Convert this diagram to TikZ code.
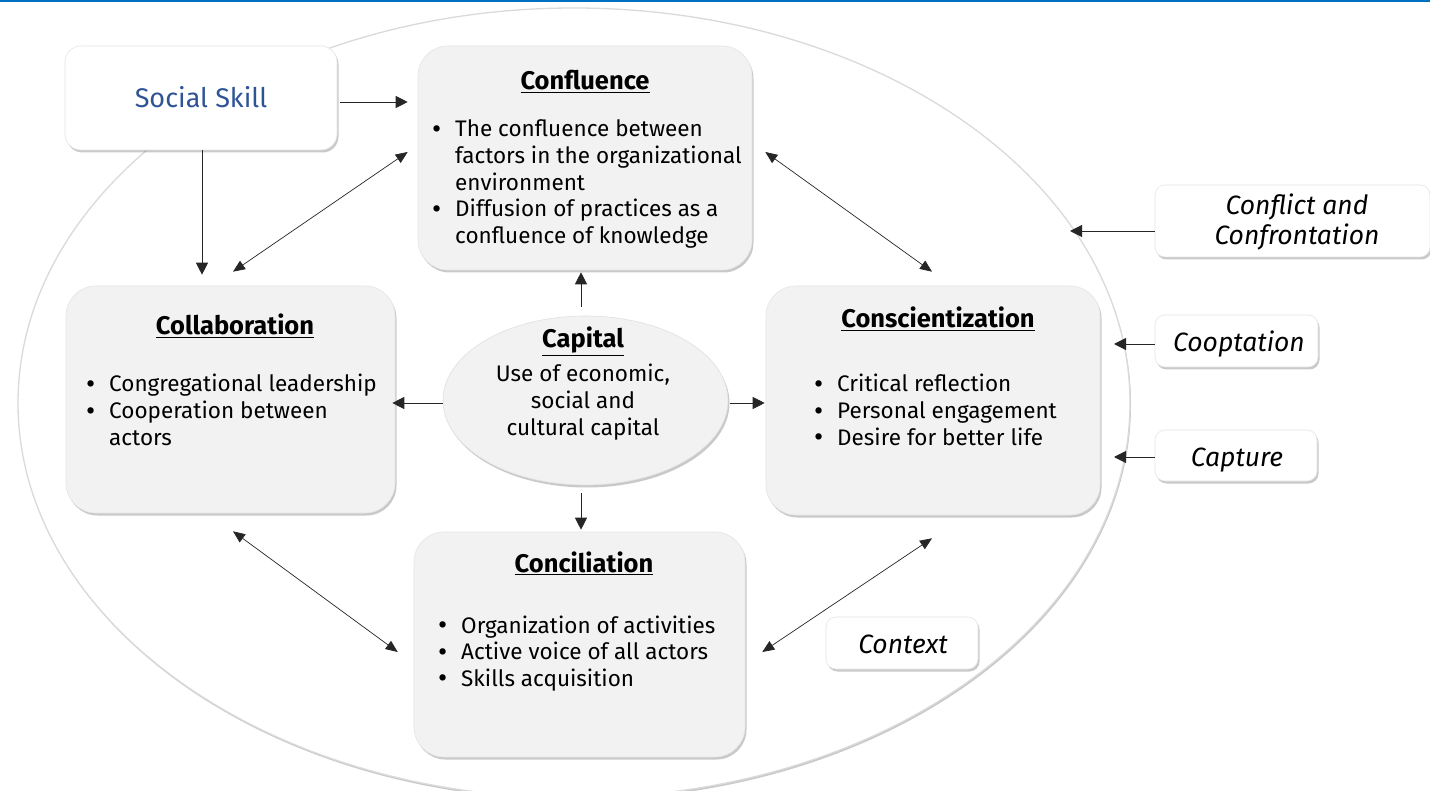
\documentclass[tikz,border=0pt]{standalone}
\usepackage{fontspec}
\setmainfont{Fira Sans}
\usetikzlibrary{shadows,arrows.meta,calc,shapes.geometric}
\definecolor{boxgray}{RGB}{242,242,242}
\definecolor{edgegray}{RGB}{218,218,218}
\definecolor{ssblue}{RGB}{47,84,150}
\definecolor{topblue}{RGB}{0,112,192}
\newcommand\bul{\makebox[23pt][l]{\raisebox{-1.6pt}{\scalebox{1.25}{\textbullet}}}}
\newcommand\ind{\hspace*{23pt}}
\newcommand\blines[1]{\vtop{\baselineskip=26.6pt\lineskiplimit=-20pt\lineskip=0pt #1}}
\newcommand\clines[2]{\vtop{\baselineskip=#1\lineskiplimit=-20pt\lineskip=0pt\halign{\hfil##\hfil\cr#2\crcr}}}
\begin{document}
\begin{tikzpicture}[x=1pt,y=-1pt,
  shad/.style={drop shadow={shadow xshift=1.5pt,shadow yshift=-2.5pt,opacity=0.35,fill=black!60}},
  graybox/.style={shad,rectangle,rounded corners=30pt,fill=boxgray,draw=black!10,line width=0.6pt,inner sep=0pt},
  whitebox/.style={shad,rectangle,rounded corners=10pt,fill=white,draw=black!10,line width=0.6pt,inner sep=0pt},
  ttl/.style={anchor=base,inner sep=0pt,font=\fontsize{25.5}{30}\selectfont\bfseries},
  body/.style={anchor=base west,inner sep=0pt,font=\fontsize{22.5}{26.6}\selectfont},
  lbl/.style={anchor=base,inner sep=0pt,font=\fontsize{26.5}{30}\selectfont\itshape},
  arr/.style={-{Triangle[length=12pt,width=12pt]},line width=0.9pt,black!85},
  darr/.style={{Triangle[length=12pt,width=10pt]}-{Triangle[length=12pt,width=10pt]},line width=0.7pt,black!85}]
\useasboundingbox (0,0) rectangle (1430,791);
\fill[white] (0,0) rectangle (1430,791);
\fill[topblue] (0,0) rectangle (1430,2.2);

% environment ellipse
\node[ellipse,inner sep=0pt,minimum width=1112pt,minimum height=790pt,fill=white,draw=edgegray,line width=1.3pt,
  drop shadow={shadow xshift=1pt,shadow yshift=-2pt,opacity=0.35,fill=black!60}] (env) at (574,403) {};

% boxes
\node[whitebox,rounded corners=16pt,minimum width=272pt,minimum height=104pt] (ss) at (201,98) {};
\node[anchor=base,inner sep=0pt,font=\fontsize{27}{30}\selectfont,text=ssblue] (sst) at (201,108) {Social Skill};

\node[graybox,minimum width=334pt,minimum height=224pt] (conf) at (585,158) {};
\node[ttl] (conft) at (585,90) {\underline{Confluence}};
\node[body] (confb) at (432,137) {\blines{\hbox{\bul The confluence between}\hbox{\ind factors in the organizational}\hbox{\ind environment}\hbox{\bul Diffusion of practices as a}\hbox{\ind confluence of knowledge}}};

\node[graybox,minimum width=329pt,minimum height=227pt] (coll) at (230.5,399.5) {};
\node[ttl] (collt) at (235,335) {\underline{Collaboration}};
\node[body] (collb) at (86,392) {\blines{\hbox{\bul Congregational leadership}\hbox{\bul Cooperation between}\hbox{\ind actors}}};

\node[graybox,minimum width=334pt,minimum height=229pt] (cons) at (933,400.5) {};
\node[ttl] (const) at (938,328) {\underline{Conscientization}};
\node[body] (consb) at (814,392) {\blines{\hbox{\bul Critical reflection}\hbox{\bul Personal engagement}\hbox{\bul Desire for better life}}};

\node[graybox,minimum width=331pt,minimum height=225pt] (conc) at (579.5,644.5) {};
\node[ttl] (conct) at (584,572) {\underline{Conciliation}};
\node[body] (concb) at (438,633) {\blines{\hbox{\bul Organization of activities}\hbox{\bul Active voice of all actors}\hbox{\bul Skills acquisition}}};

\node[ellipse,inner sep=0pt,minimum width=285pt,minimum height=169pt,fill=boxgray,draw=black!12,line width=0.6pt,shad] (cap) at (585.5,400.5) {};
\node[ttl] (capt) at (583,348) {\underline{Capital}};
\node[anchor=base,inner sep=0pt,font=\fontsize{22.5}{26.6}\selectfont] (capb) at (583,382) {\clines{26.6pt}{Use of economic,\cr social and\cr cultural capital}};

\node[whitebox,minimum width=275pt,minimum height=72pt] (cfl) at (1292.5,221) {};
\node[lbl] (cflt) at (1297,215) {\clines{30pt}{Conflict and\cr Confrontation}};
\node[whitebox,minimum width=163pt,minimum height=52pt] (coo) at (1236.5,341) {};
\node[lbl] (coot) at (1239,352) {Cooptation};
\node[whitebox,minimum width=162pt,minimum height=51pt] (capx) at (1236,455.5) {};
\node[lbl] (capxt) at (1237,466) {Capture};
\node[whitebox,minimum width=152pt,minimum height=52pt] (ctx) at (902,643) {};
\node[lbl] (ctxt) at (903,653) {Context};

\coordinate (e1) at (1070,231);
\coordinate (e2) at (1114,344);
\coordinate (e3) at (1114,457);

% connectors
\draw[arr] ($(ss.east)+(3,4)$) -- ($(conf.west)+(-10,-56)$);
\draw[arr] ($(ss.south)+(1,0)$) -- ($(coll.north)+(-28.5,-11)$);
\draw[darr] ($(conf.west)+(-10,-6)$) -- ($(coll.north)+(2.5,-14)$);
\draw[darr] ($(conf.east)+(13,-6)$) -- ($(cons.north)+(-1,-14)$);
\draw[darr] ($(coll.south)+(2.5,18)$) -- ($(conc.west)+(-16,7.5)$);
\draw[darr] ($(cons.south)+(-1,23)$) -- ($(conc.east)+(17,7.5)$);
\draw[arr] ($(cap.north)+(-4.5,-9)$) -- ($(conf.south)+(-4,2)$);
\draw[arr] ($(cap.west)+(0,2.5)$) -- ($(coll.east)+(-3,3.5)$);
\draw[arr] ($(cap.east)+(2,2.5)$) -- ($(cons.west)+(-1,2.5)$);
\draw[arr] ($(cap.south)+(-4.5,8)$) -- ($(conc.north)+(1.5,-2)$);
\draw[arr] ($(cfl.west)+(0,10)$) -- (e1);
\draw[arr] ($(coo.west)+(0,3)$) -- (e2);
\draw[arr] ($(capx.west)+(0,1.5)$) -- (e3);
\end{tikzpicture}
\end{document}
